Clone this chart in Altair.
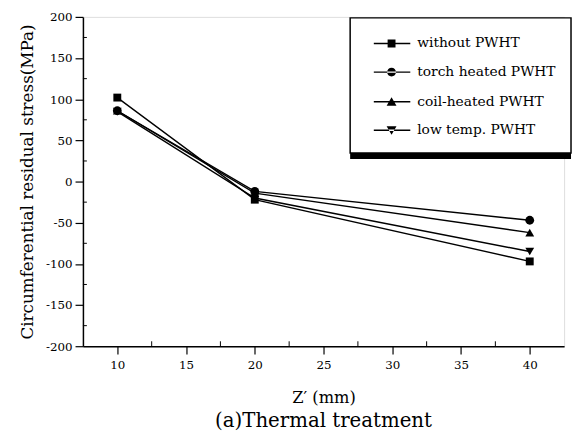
import altair as alt
import pandas as pd

series = ["without PWHT", "torch heated PWHT", "coil-heated PWHT", "low temp. PWHT"]
z_values = [10, 20, 40]
without_pwht = [102, -22, -97]
torch_pwht = [86, -12, -47]
coil_pwht = [86, -14, -62]
lowtemp_pwht = [85, -20, -85]
marker_shapes = ["square", "circle", "triangle-up", "triangle-down"]

y_major = [-200, -150, -100, -50, 0, 50, 100, 150, 200]
y_minor = [-175, -125, -75, -25, 25, 75, 125, 175]
x_major = [10, 15, 20, 25, 30, 35, 40]
x_minor = [12.5, 17.5, 22.5, 27.5, 32.5, 37.5]

rows = []
for name, vals in zip(series, [without_pwht, torch_pwht, coil_pwht, lowtemp_pwht]):
    for z, v in zip(z_values, vals):
        rows.append({"series": name, "z": z, "stress": v})
df = pd.DataFrame(rows)
legend_df = pd.DataFrame({"entry": series})

FONT = "DejaVu Serif"
W, H = 488, 334

xscale = alt.Scale(domain=[7.5, 42.5], nice=False, zero=False)
yscale = alt.Scale(domain=[-200, 200], nice=False, zero=False)

xaxis = alt.Axis(values=x_major, title="Z\u2032 (mm)", grid=False, tickSize=8,
                 domainColor="black", domainWidth=1.5, tickColor="black", tickWidth=1.2,
                 labelFont=FONT, labelFontSize=12, labelColor="black", labelPadding=6,
                 titleFont=FONT, titleFontSize=16.5, titleFontWeight="normal", titleColor="black",
                 titleY=44, titleBaseline="top")
yaxis = alt.Axis(values=y_major, title="Circumferential residual stress(MPa)", grid=False,
                 tickSize=8, domainColor="black", domainWidth=1.5, tickColor="black",
                 tickWidth=1.2, labelFont=FONT, labelFontSize=12, labelColor="black",
                 labelPadding=3, labelExpr="'' + datum.value",
                 titleFont=FONT, titleFontSize=17, titleFontWeight="normal", titleColor="black",
                 titleX=-47)

X = alt.X("z:Q", scale=xscale, axis=xaxis, title="Z\u2032 (mm)")
Y = alt.Y("stress:Q", scale=yscale, axis=yaxis, title="Circumferential residual stress(MPa)")

base = alt.Chart(df)

lines = base.mark_line(color="black", strokeWidth=1.4).encode(
    x=X, y=Y, detail="series:N",
)

point_layers = []
for name, shp in zip(series, marker_shapes):
    sz = 64 if shp == "square" else 80
    point_layers.append(
        base.transform_filter(alt.datum.series == name)
        .mark_point(filled=True, color="black", opacity=1, size=sz, shape=shp)
        .encode(x=X, y=Y)
    )

BAR = "M-0.2,-0.07H3.5V0.07H-0.2Z"
legend_paths = [
    BAR + "M1.2,-0.4H2V0.4H1.2Z",
    BAR + "M1.15,0A0.45,0.45,0,1,0,2.05,0A0.45,0.45,0,1,0,1.15,0Z",
    BAR + "M1.6,-0.45L2.1,0.4H1.1Z",
    BAR + "M1.6,0.45L2.1,-0.4H1.1Z",
]
legend_layer = alt.Chart(legend_df).mark_point(filled=True, color="black", opacity=1,
                                               size=400).encode(
    x=alt.value(-400),
    y=alt.value(-400),
    shape=alt.Shape("entry:N", scale=alt.Scale(domain=series, range=legend_paths),
                    legend=alt.Legend(title=None, orient="none", legendX=271, legendY=1,
                                      padding=15, rowPadding=11, labelOffset=31,
                                      symbolSize=400, symbolFillColor="black",
                                      labelFont=FONT, labelFontSize=14, labelColor="black",
                                      fillColor="white", strokeColor="black", zindex=1)),
)

shadow = alt.Chart(pd.DataFrame({"k": [0]})).mark_rect(color="black").encode(
    x=alt.value(271), x2=alt.value(495), y=alt.value(10), y2=alt.value(144)
)

ydf = pd.DataFrame({"stress": y_minor})
yminor = alt.Chart(ydf).mark_rule(color="black", strokeWidth=1).encode(
    y=Y, x=alt.value(0), x2=alt.value(4),
)
xdf = pd.DataFrame({"z": x_minor})
xminor = alt.Chart(xdf).mark_rule(color="black", strokeWidth=1).encode(
    x=X, y=alt.value(H), y2=alt.value(H - 5),
)

chart = alt.layer(lines, *point_layers, yminor, xminor, shadow, legend_layer).properties(
    width=W, height=H,
    autosize="none",
    padding={"left": 76, "top": 6, "right": 8, "bottom": 86},
    title=alt.TitleParams("(a)Thermal treatment", orient="bottom", font=FONT, fontSize=20,
                          fontWeight="normal", color="black", baseline="top", offset=5),
).configure_view(strokeWidth=0).configure(background="white").configure_legend(strokeWidth=1.5)

chart.save("out.html", embed_options={"renderer": "svg", "actions": False})
